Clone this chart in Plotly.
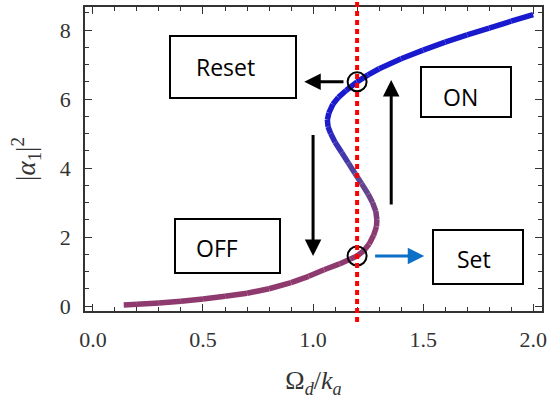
import plotly.graph_objects as go

# Curve (Omega_d/k_a, |alpha_1|^2), ordered along the curve
curve_x = [0.14, 0.20, 0.30, 0.40, 0.50, 0.60, 0.70, 0.80, 0.90, 0.98, 1.05, 1.12,
           1.17, 1.20, 1.23, 1.255, 1.275, 1.288, 1.29, 1.285, 1.27, 1.25, 1.22, 1.19,
           1.16, 1.13, 1.10, 1.08, 1.068, 1.065, 1.072, 1.09, 1.115, 1.15, 1.20, 1.25,
           1.30, 1.40, 1.50, 1.60, 1.70, 1.80, 1.90, 2.00]
curve_y = [0.03, 0.05, 0.09, 0.14, 0.20, 0.28, 0.37, 0.50, 0.68, 0.86, 1.05, 1.22,
           1.36, 1.45, 1.60, 1.80, 2.05, 2.30, 2.50, 2.75, 3.00, 3.25, 3.55, 3.85,
           4.15, 4.45, 4.75, 5.00, 5.20, 5.40, 5.60, 5.85, 6.05, 6.25, 6.50, 6.70,
           6.88, 7.17, 7.42, 7.65, 7.86, 8.06, 8.26, 8.45]

drive = 1.2
set_y = 1.45
reset_y = 6.5

xticks = [0.0, 0.5, 1.0, 1.5, 2.0]
xtick_labels = ["0.0", "0.5", "1.0", "1.5", "2.0"]
yticks = [0, 2, 4, 6, 8]
ytick_labels = ["0", "2", "4", "6", "8"]

low_col = (142, 58, 110)
mid_col = (88, 72, 150)
high_col = (25, 25, 205)
y_lo, y_mid, y_hi = 2.1, 3.8, 5.4


def mix(a, b, t):
    return [round(p + (q - p) * t) for p, q in zip(a, b)]


def col_at(y):
    if y <= y_mid:
        t = min(1.0, max(0.0, (y - y_lo) / (y_mid - y_lo)))
        c = mix(low_col, mid_col, t)
    else:
        t = min(1.0, max(0.0, (y - y_mid) / (y_hi - y_mid)))
        c = mix(mid_col, high_col, t)
    return f"rgb({c[0]},{c[1]},{c[2]})"


fig = go.Figure()

# gradient curve drawn piecewise
n = len(curve_x)
for i in range(n - 1):
    xs = curve_x[i:i + 2]
    ys = curve_y[i:i + 2]
    fig.add_trace(go.Scatter(
        x=xs, y=ys, mode="lines",
        line=dict(color=col_at((ys[0] + ys[1]) / 2), width=5.5),
        hoverinfo="skip", showlegend=False))

# circles at switching points
fig.add_trace(go.Scatter(
    x=[drive, drive], y=[set_y, reset_y], mode="markers",
    marker=dict(symbol="circle-open", size=19, color="black", line=dict(width=2)),
    showlegend=False, hoverinfo="skip", cliponaxis=False))

# red dotted vertical line
fig.add_shape(type="line", xref="x", yref="paper", x0=drive, x1=drive, y0=-0.036, y1=1.03,
              line=dict(color="#ff0000", width=4, dash="5px,4px"), layer="above")

box_font = dict(family="Open Sans, Lato, sans-serif", size=23, color="black")


def box(x0, x1, y0, y1, text, tx, ty):
    fig.add_shape(type="rect", xref="paper", yref="paper", x0=x0, x1=x1, y0=y0, y1=y1,
                  line=dict(color="black", width=2), fillcolor="white", layer="above")
    fig.add_annotation(xref="paper", yref="paper", x=tx, y=ty, text=text, showarrow=False,
                       font=box_font, xanchor="center", yanchor="middle")


# plot area: px 85..542 horizontally, 7..311 vertically
def px(xp):
    return (xp - 85) / (542 - 85)


def py(yp):
    return (311 - yp) / (311 - 7)


box(px(170), px(296), py(98), py(36), "Reset", px(225), py(67))
box(px(421), px(511), py(117), py(67), "ON", px(460), py(97))
box(px(175), px(280), py(273), py(219), "OFF", px(217), py(248))
box(px(433), px(523), py(284), py(230), "Set", px(474), py(259))

arrow_common = dict(showarrow=True, arrowhead=2, arrowsize=1.1, text="",
                    xref="x", yref="y", axref="x", ayref="y")
# Reset arrow (left)
fig.add_annotation(x=0.96, y=reset_y, ax=1.145, ay=reset_y, arrowcolor="black", arrowwidth=3,
                   **arrow_common)
# Down arrow
fig.add_annotation(x=1.0, y=1.45, ax=1.0, ay=5.0, arrowcolor="black", arrowwidth=3,
                   **arrow_common)
# Up arrow
fig.add_annotation(x=1.355, y=6.55, ax=1.355, ay=2.9, arrowcolor="black", arrowwidth=3,
                   **arrow_common)
# Set arrow (blue)
fig.add_annotation(x=1.505, y=set_y, ax=1.275, ay=set_y, arrowcolor="#0A70C8", arrowwidth=3,
                   **arrow_common)

axis_common = dict(showline=True, linecolor="#333333", linewidth=1.5, mirror="ticks",
                   ticks="inside", tickcolor="#333333", ticklen=7, tickwidth=1.3,
                   showgrid=False, zeroline=False, automargin=False,
                   tickfont=dict(family="Liberation Serif, Times New Roman, serif", size=22,
                                 color="#333333"))

fig.update_xaxes(range=[-0.036, 2.04], tickvals=xticks, ticktext=xtick_labels,
                 minor=dict(dtick=0.1, ticks="inside", ticklen=4, tickcolor="#333333"),
                 title=dict(text="Ω<sub><i>d</i></sub>/<i>k</i><sub><i>a</i></sub>",
                            font=dict(family="Liberation Serif, serif", size=26, color="#333333"),
                            standoff=20),
                 ticklabelstandoff=8,
                 **axis_common)
fig.update_yaxes(range=[-0.145, 8.67], tickvals=yticks, ticktext=ytick_labels,
                 minor=dict(dtick=0.5, ticks="inside", ticklen=4, tickcolor="#333333"),
                 title=dict(text="|<i>α</i><sub>1</sub>|<sup>2</sup>",
                            font=dict(family="Liberation Serif, serif", size=27, color="#333333"),
                            standoff=16),
                 ticklabelstandoff=8,
                 **axis_common)

fig.update_layout(width=549, height=403, margin=dict(l=85, r=7, t=7, b=92),
                  plot_bgcolor="white", paper_bgcolor="white", showlegend=False)

fig.write_html("out.html", config={"displayModeBar": False},
               post_script="document.body.style.margin='0px';document.body.style.overflow='hidden';")
